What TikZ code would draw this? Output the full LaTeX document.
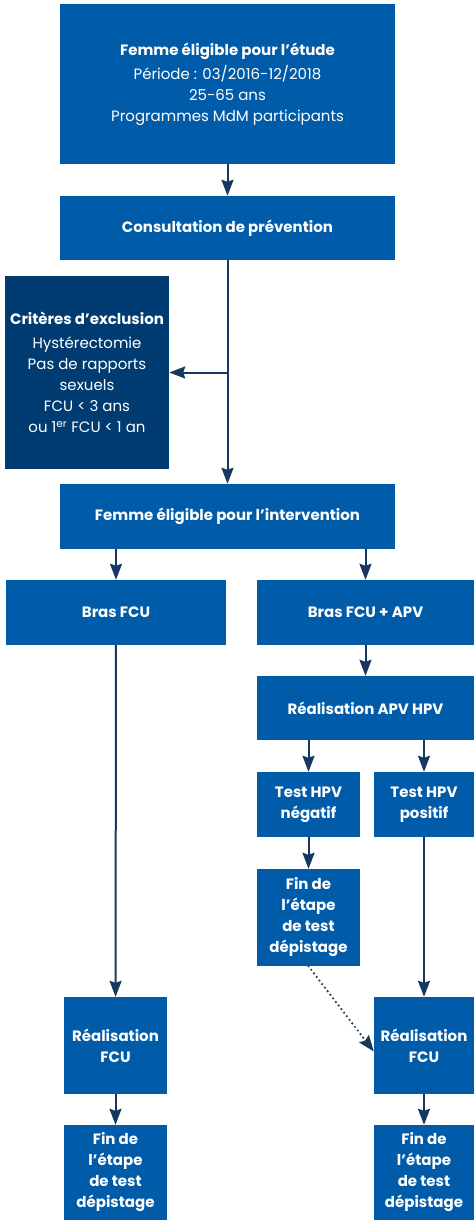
\documentclass[tikz,border=0pt]{standalone}
\usepackage{fontspec}
\setmainfont{Poppins}
\usetikzlibrary{arrows.meta}
\definecolor{bleumdm}{HTML}{005BA9}
\definecolor{bleufonce}{HTML}{003C71}
\definecolor{fleche}{HTML}{17375E}
\tikzstyle{bloc} = [rectangle, fill=bleumdm, text=white, inner sep=0pt, align=center, font=\fontsize{15}{21}\selectfont]
\tikzstyle{titre} = [bloc, font=\fontsize{15}{21}\bfseries]
\tikzstyle{lien} = [draw=fleche, line width=2pt, -{Stealth[length=16pt,width=12pt,inset=2pt]}]

\begin{document}
\begin{tikzpicture}[x=1pt, y=-1pt]
    \useasboundingbox (0,0) rectangle (474,1220);

    \node [bloc, minimum width=335pt, minimum height=160pt] (etude) at (227.5,84) {\textbf{Femme éligible pour l’étude}\\[3pt]Période : 03/2016-12/2018\\25-65 ans\\Programmes MdM participants};
    \node [titre, minimum width=335pt, minimum height=64pt] (consult) at (227.5,228) {Consultation de prévention};
    \node [bloc, fill=bleufonce, minimum width=164pt, minimum height=193pt] (exclu) at (87,372.5) {\textbf{Critères d’exclusion}\\[3pt]Hystérectomie\\Pas de rapports\\sexuels\\FCU < 3 ans\\ou 1\textsuperscript{er} FCU < 1 an};
    \node [titre, minimum width=335pt, minimum height=65pt] (interv) at (227.5,516.5) {Femme éligible pour l’intervention};

    \node [titre, minimum width=220pt, minimum height=65pt] (brasfcu) at (116,612.5) {Bras FCU};
    \node [titre, minimum width=217pt, minimum height=65pt] (brasapv) at (365.5,612.5) {Bras FCU + APV};
    \node [titre, minimum width=217pt, minimum height=64pt] (apvhpv) at (365.5,708) {Réalisation APV HPV};

    \node [titre, minimum width=103pt, minimum height=65pt] (negatif) at (308.5,804.5) {Test HPV\\négatif};
    \node [titre, minimum width=100pt, minimum height=65pt] (positif) at (424,804.5) {Test HPV\\positif};
    \node [titre, minimum width=103pt, minimum height=97pt] (finneg) at (308.5,917.5) {Fin de\\l’étape\\de test\\dépistage};

    \node [titre, minimum width=103pt, minimum height=97pt] (realfcu) at (115.5,1045.5) {Réalisation\\FCU};
    \node [titre, minimum width=100pt, minimum height=97pt] (realpos) at (424,1045.5) {Réalisation\\FCU};
    \node [titre, minimum width=103pt, minimum height=95pt] (finfcu) at (115.5,1172.5) {Fin de\\l’étape\\de test\\dépistage};
    \node [titre, minimum width=100pt, minimum height=95pt] (finpos) at (424,1172.5) {Fin de\\l’étape\\de test\\dépistage};

    \coordinate (branche) at (consult.south |- exclu.east);

    \draw [lien] (etude) -- (consult);
    \draw [lien] (consult) -- (interv);
    \draw [lien] (branche) -- (exclu.east);
    \draw [lien] (brasfcu.north |- interv.south) -- (brasfcu.north);
    \draw [lien] (brasapv.north |- interv.south) -- (brasapv.north);
    \draw [lien] (brasfcu) -- (realfcu);
    \draw [lien] (brasapv) -- (apvhpv);
    \draw [lien] (negatif.north |- apvhpv.south) -- (negatif.north);
    \draw [lien] (positif.north |- apvhpv.south) -- (positif.north);
    \draw [lien] (negatif) -- (finneg);
    \draw [lien] (positif) -- (realpos);
    \draw [lien, line width=2.4pt, dash pattern=on 0pt off 4.5pt, line cap=round] (finneg.south) -- ([yshift=-6pt]realpos.west);
    \draw [lien] (realfcu) -- (finfcu);
    \draw [lien] (realpos) -- (finpos);
\end{tikzpicture}
\end{document}
